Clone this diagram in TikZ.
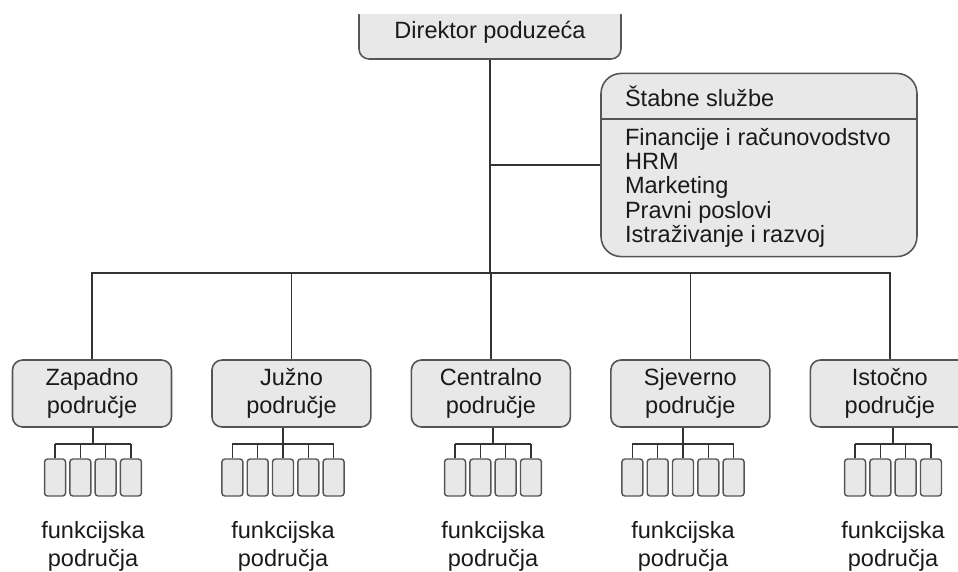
\documentclass[tikz,border=0pt]{standalone}
\usepackage{fontspec}
\setmainfont{Liberation Sans}
\usetikzlibrary{positioning,shapes.multipart}
\definecolor{boxfill}{HTML}{E8E8E8}
\definecolor{boxline}{HTML}{555555}
\definecolor{wirecol}{HTML}{333333}
\definecolor{ink}{HTML}{1A1A1A}
\tikzset{
  box/.style={draw=boxline, fill=boxfill, line width=0.9pt, rounded corners=0.2cm,
    text=ink, font=\fontsize{13.4}{15.9}\selectfont, align=center, inner sep=0},
  area/.style={box, minimum width=3.18cm, minimum height=1.34cm},
  unit/.style={draw=boxline, fill=boxfill, line width=0.8pt, rounded corners=0.06cm,
    minimum width=0.42cm, minimum height=0.74cm, inner sep=0},
  wire/.style={draw=wirecol, line width=0.9pt},
  lab/.style={text=ink, font=\fontsize{13.4}{15.9}\selectfont, align=center, inner sep=0}
}

\begin{document}
\begin{tikzpicture}[x=0.02cm, y=-0.02cm, node distance=3.99cm, on grid]
\useasboundingbox (0,0) rectangle (958,572);
% top box, cut by the page edge
\begin{scope}
  \clip (0,14) rectangle (958,572);
  \node[box, minimum width=5.24cm, minimum height=1.08cm] (dir) at (490,32) {Direktor poduzeća};
\end{scope}
\node[draw=boxline, fill=boxfill, line width=0.9pt, rounded corners=0.4cm, text=ink,
  rectangle split, rectangle split parts=2, inner xsep=0.48cm, inner ysep=0,
  font=\fontsize{13.4}{13.8}\selectfont] (stab) at (759,165)
  {\parbox[c][0.88cm][c]{5.36cm}{\raggedright Štabne službe}%
   \nodepart{two}\parbox[c][2.72cm][c]{5.36cm}{\raggedright Financije i računovodstvo\\
   HRM\\ Marketing\\ Pravni poslovi\\ Istraživanje i razvoj}};
\node[area] (p1) at (92,393.5) {Zapadno\\područje};
\node[area, right=of p1] (p2) {Južno\\područje};
\node[area, right=of p2] (p3) {Centralno\\područje};
\node[area, right=of p3] (p4) {Sjeverno\\područje};
\node[area, right=of p4] (p5) {Istočno\\područje};
\coordinate (bus) at (490,273);
\draw[wire] (dir.south) -- (bus);
\draw[wire] (stab.west) -- (stab.west -| dir.south);
\draw[wire] (p1.north) |- (bus) -| (p5.north);
\draw[wire] (p2.north) -- (p2.north |- bus);
\draw[wire] (p3.north) -- (p3.north |- bus);
\draw[wire] (p4.north) -- (p4.north |- bus);
% functional units under each area
\foreach \i/\n/\cx in {1/4/93, 2/5/283, 3/4/493, 4/5/683, 5/4/893} {
  \coordinate (g\i) at (\cx,444);
  \draw[wire] (g\i |- p\i.south) -- (g\i);
  \foreach \k in {1,...,\n} {
    \node[unit] (b\i-\k) at ({\cx+(\k-(\n+1)/2)*25.3},477.5) {};
    \draw[wire] (b\i-\k.north) -- (b\i-\k.north |- g\i);
  }
  \draw[wire] (b\i-1.north |- g\i) -- (b\i-\n.north |- g\i);
  \node[lab] (f\i) at (\cx,546) {funkcijska\\područja};
}
\end{tikzpicture}
\end{document}
